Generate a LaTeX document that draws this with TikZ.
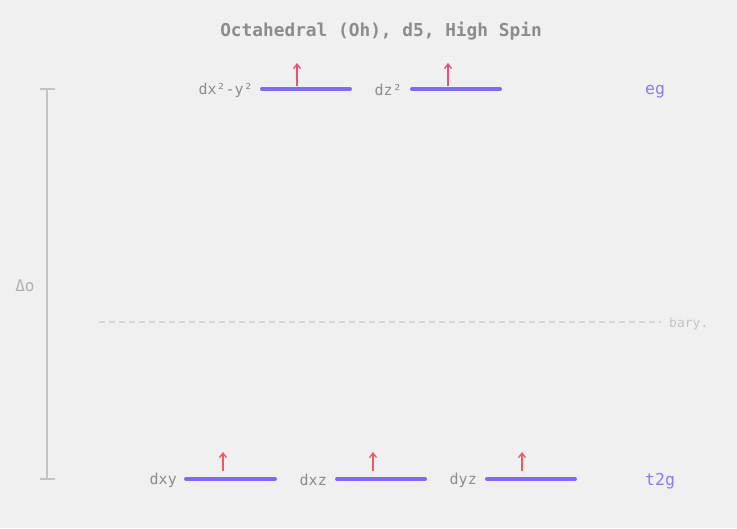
\documentclass[tikz,border=0pt]{standalone}
\usepackage{fontspec}
\setmonofont{DejaVu Sans Mono}
\usetikzlibrary{arrows.meta}
\definecolor{bg}{HTML}{F0F0F0}
\definecolor{level}{HTML}{7B6CF2}
\definecolor{spin}{HTML}{E8507A}
\definecolor{txt}{HTML}{8C8C8C}
\definecolor{faint}{HTML}{C4C4C4}

\begin{document}
\begin{tikzpicture}[x=1pt,y=-1pt,
  orbital/.style={line width=4pt,level,line cap=round},
  electron/.style={line width=1.4pt,spin,-{Straight Barb[length=4.5pt,width=7pt]}},
  orblabel/.style={anchor=east,inner sep=0pt,txt,font=\ttfamily\fontsize{15}{15}\selectfont},
  setlabel/.style={anchor=west,inner sep=0pt,level!90!white,font=\ttfamily\fontsize{16.5}{16.5}\selectfont}]
  \fill[bg] (0,0) rectangle (737,528);

  \node[txt,font=\ttfamily\bfseries\fontsize{17.8}{17.8}\selectfont] (title) at (381,31) {Octahedral (Oh), d5, High Spin};

  % eg levels
  \coordinate (e1a) at (262,89);
  \coordinate (e1b) at (350,89);
  \coordinate (e2a) at (412,89);
  \coordinate (e2b) at (500,89);
  % t2g levels
  \coordinate (t1a) at (186,479);
  \coordinate (t1b) at (275,479);
  \coordinate (t2a) at (337,479);
  \coordinate (t2b) at (425,479);
  \coordinate (t3a) at (487,479);
  \coordinate (t3b) at (575,479);

  \draw[orbital] (e1a) -- (e1b);
  \draw[orbital] (e2a) -- (e2b);
  \draw[orbital] (t1a) -- (t1b);
  \draw[orbital] (t2a) -- (t2b);
  \draw[orbital] (t3a) -- (t3b);

  \node[orblabel] (dx2y2) at (253,90) {dx²-y²};
  \node[orblabel] (dz2) at (402,90) {dz²};
  \node[orblabel] (dxy) at (177,480) {dxy};
  \node[orblabel] (dxz) at (327,480) {dxz};
  \node[orblabel] (dyz) at (477,480) {dyz};

  \node[setlabel] (eg) at (645,91.5) {eg};
  \node[setlabel] (t2g) at (645,481) {t2g};

  % electrons
  \foreach \n/\x/\y in {u1/297/86, u2/448/86, u3/223/471, u4/373/471, u5/522/471}
    \coordinate (\n) at (\x,\y);
  \coordinate (u1t) at (297,63);
  \coordinate (u2t) at (448,63);
  \coordinate (u3t) at (223,452);
  \coordinate (u4t) at (373,452);
  \coordinate (u5t) at (522,452);
  \draw[electron] (u1) -- (u1t);
  \draw[electron] (u2) -- (u2t);
  \draw[electron,spin!80!orange] (u3) -- (u3t);
  \draw[electron,spin!80!orange] (u4) -- (u4t);
  \draw[electron,spin!80!orange] (u5) -- (u5t);

  % splitting bar
  \coordinate (top) at (47,89);
  \coordinate (bot) at (47,479);
  \draw[faint,line width=2pt] (top) -- (bot);
  \draw[faint,line width=2pt] (40,89) -- (55,89);
  \draw[faint,line width=2pt] (40,479) -- (55,479);
  \node[faint!90!black,font=\ttfamily\fontsize{16}{16}\selectfont] (delta) at (25,286) {Δo};

  % barycentre
  \coordinate (b1) at (99,322);
  \coordinate (b2) at (661,322);
  \draw[faint!70!white,line width=1.2pt,dash pattern=on 6pt off 4pt] (b1) -- (b2);
  \node[anchor=west,inner sep=0pt,faint,font=\ttfamily\fontsize{13}{13}\selectfont] (bary) at (669,324) {bary.};
\end{tikzpicture}
\end{document}
